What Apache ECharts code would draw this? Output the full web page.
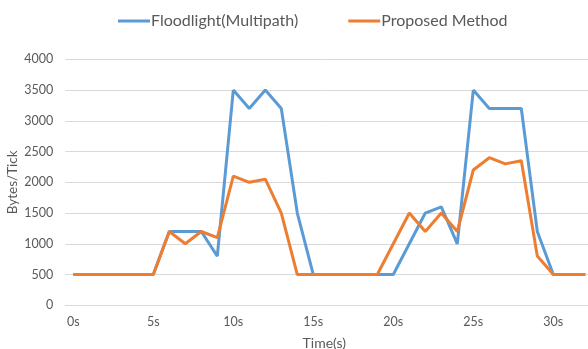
<!DOCTYPE html>
<html>
<head>
<meta charset="utf-8">
<script src="https://cdn.jsdelivr.net/npm/echarts@6/dist/echarts.min.js"></script>
<style>html,body{margin:0;padding:0;background:#fff}#c{width:588px;height:349px}</style>
</head>
<body>
<div id="c"></div>
<script>
const categories = ['0s','1s','2s','3s','4s','5s','6s','7s','8s','9s','10s','11s','12s','13s','14s','15s','16s','17s','18s','19s','20s','21s','22s','23s','24s','25s','26s','27s','28s','29s','30s','31s','32s'];
const floodlight = [500,500,500,500,500,500,1200,1200,1200,800,3500,3200,3500,3200,1500,500,500,500,500,500,500,1000,1500,1600,1000,3500,3200,3200,3200,1200,500,500,500];
const proposed = [500,500,500,500,500,500,1200,1000,1200,1100,2100,2000,2050,1500,500,500,500,500,500,500,1000,1500,1200,1500,1200,2200,2400,2300,2350,800,500,500,500];
const seriesNames = ['Floodlight(Multipath)', 'Proposed Method'];

const font = 'Lato, "Open Sans", sans-serif';
const txt = '#595959';
const chart = echarts.init(document.getElementById('c'), null, {renderer: 'canvas'});
chart.setOption({
  animation: false,
  textStyle: {fontFamily: font},
  color: ['#5B9BD5', '#ED7D31'],
  legend: {
    left: 113, top: 8,
    itemWidth: 32, itemHeight: 3, itemGap: 50,
    icon: 'rect',
    textStyle: {fontFamily: font, fontSize: 16, color: txt, padding: [0,0,0,-4]},
    data: seriesNames
  },
  grid: {left: 65.3, right: -5.3, top: 59.3, bottom: 43.7, containLabel: false, outerBoundsMode: 'none'},
  xAxis: {
    type: 'category',
    data: categories,
    boundaryGap: true,
    axisLine: {show: true, lineStyle: {color: '#D9D9D9', width: 1}},
    axisTick: {show: false},
    axisLabel: {interval: 4, color: txt, fontSize: 12.5, fontFamily: font, margin: 10},
    name: 'Time(s)', nameLocation: 'middle', nameGap: 31,
    nameTextStyle: {color: txt, fontSize: 14, fontFamily: font, padding: [0, 10, 0, 0]}
  },
  yAxis: {
    type: 'value', min: 0, max: 4000, interval: 500,
    axisLine: {show: false}, axisTick: {show: false},
    splitLine: {lineStyle: {color: '#D9D9D9', width: 1}},
    axisLabel: {color: txt, fontSize: 12.5, fontFamily: font, margin: 12, formatter: v => String(v)},
    name: 'Bytes/Tick', nameLocation: 'middle', nameGap: 46, nameRotate: 90, nameMoveOverlap: false,
    nameTextStyle: {color: txt, fontSize: 13.5, fontFamily: font}
  },
  series: [
    {name: seriesNames[0], type: 'line', data: floodlight, symbol: 'none', lineStyle: {width: 3, color: '#5B9BD5'}, z: 2},
    {name: seriesNames[1], type: 'line', data: proposed, symbol: 'none', lineStyle: {width: 3, color: '#ED7D31'}, z: 3}
  ]
});
</script>
</body>
</html>
